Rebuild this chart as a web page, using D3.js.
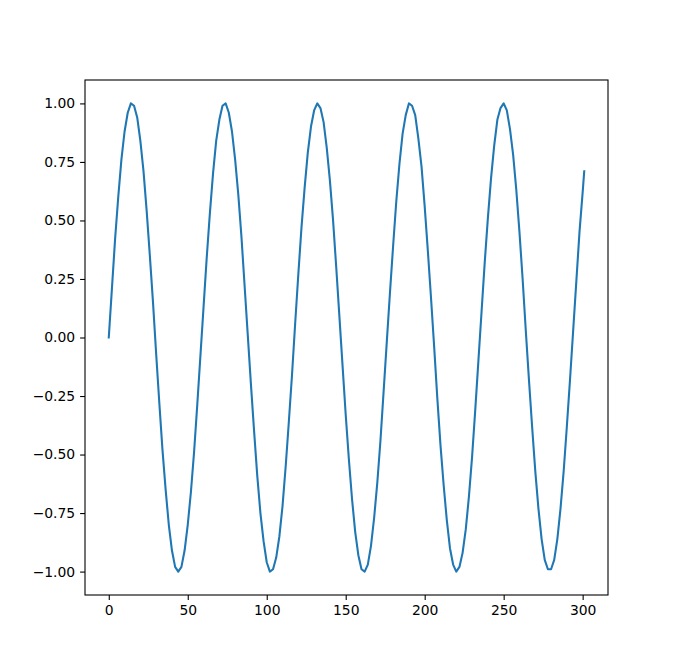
<!DOCTYPE html>
<html><head><meta charset="utf-8">
<script src="https://cdn.jsdelivr.net/npm/d3@7"></script>
<style>body{margin:0;background:#fff}svg{display:block}text{font-family:"DejaVu Sans",sans-serif;font-size:13.9px;fill:#000}</style>
</head><body>
<script>
// x positions (step 2) and the final point at 301
const xValues = [0,2,4,6,8,10,12,14,16,18,20,22,24,26,28,30,32,34,36,38,40,42,44,46,48,50,52,54,56,58,
60,62,64,66,68,70,72,74,76,78,80,82,84,86,88,90,92,94,96,98,100,102,104,106,108,110,112,114,116,118,
120,122,124,126,128,130,132,134,136,138,140,142,144,146,148,150,152,154,156,158,160,162,164,166,168,170,172,174,176,178,
180,182,184,186,188,190,192,194,196,198,200,202,204,206,208,210,212,214,216,218,220,222,224,226,228,230,232,234,236,238,
240,242,244,246,248,250,252,254,256,258,260,262,264,266,268,270,272,274,276,278,280,282,284,286,288,290,292,294,296,298,300,301];
const yValues = [
0.00,0.21,0.42,0.60,0.76,0.88,0.96,1.00,0.99,0.94,0.84,0.71,0.54,0.35,0.15,-0.07,-0.28,-0.48,-0.65,-0.80,
-0.91,-0.98,-1.00,-0.98,-0.91,-0.80,-0.66,-0.49,-0.29,-0.08,0.13,0.34,0.53,0.70,0.84,0.93,0.99,1.00,0.96,0.88,
0.76,0.61,0.43,0.22,0.01,-0.20,-0.40,-0.59,-0.75,-0.87,-0.96,-1.00,-0.99,-0.94,-0.85,-0.72,-0.55,-0.36,-0.16,0.06,
0.27,0.47,0.64,0.79,0.90,0.97,1.00,0.98,0.92,0.81,0.67,0.50,0.30,0.09,-0.12,-0.33,-0.52,-0.69,-0.83,-0.93,
-0.99,-1.00,-0.97,-0.89,-0.77,-0.62,-0.44,-0.23,-0.02,0.19,0.39,0.58,0.74,0.87,0.95,1.00,0.99,0.95,0.85,0.73,
0.56,0.37,0.17,-0.04,-0.26,-0.46,-0.63,-0.78,-0.90,-0.97,-1.00,-0.98,-0.92,-0.82,-0.68,-0.51,-0.31,-0.10,0.11,0.32,
0.51,0.68,0.82,0.93,0.98,1.00,0.97,0.89,0.78,0.63,0.45,0.25,0.03,-0.18,-0.38,-0.57,-0.73,-0.86,-0.95,-0.99,
-0.99,-0.95,-0.86,-0.73,-0.57,-0.38,-0.18,0.03,0.24,0.45,0.62,0.71];
const xTicks = [0,50,100,150,200,250,300];
const yTicks = [-1.00,-0.75,-0.50,-0.25,0.00,0.25,0.50,0.75,1.00];

const W=676,H=669, L=85,R=608,T=80,B=595;
const data = xValues.map((x,i)=>({x, y:yValues[i]}));
const xmax = d3.max(xValues), xpad = xmax*0.05;
const x = d3.scaleLinear().domain([-xpad, xmax+xpad]).range([L,R]);
const y = d3.scaleLinear().domain([-1.1,1.1]).range([B,T]);

const svg = d3.select("body").append("svg").attr("width",W).attr("height",H);
svg.append("rect").attr("width",W).attr("height",H).attr("fill","#fff");

const fmt = v => d3.format(".2f")(v).replace("-","\u2212");
const xa = svg.append("g").attr("transform",`translate(0,${B})`)
  .call(d3.axisBottom(x).tickValues(xTicks).tickSize(4.9).tickPadding(4.9).tickFormat(d3.format("d")));
const ya = svg.append("g").attr("transform",`translate(${L},0)`)
  .call(d3.axisLeft(y).tickValues(yTicks).tickSize(4.9).tickPadding(4.9).tickFormat(fmt));
[xa,ya].forEach(g=>{g.select(".domain").remove();g.selectAll("line").attr("stroke","#000").attr("stroke-width",1.1);
  g.selectAll("text").style("font-family","DejaVu Sans").style("font-size","13.9px").attr("fill","#000");});

svg.append("clipPath").attr("id","c").append("rect").attr("x",L).attr("y",T).attr("width",R-L).attr("height",B-T);
svg.append("path").datum(data).attr("clip-path","url(#c)")
  .attr("fill","none").attr("stroke","#1f77b4").attr("stroke-width",2.08)
  .attr("stroke-linejoin","round").attr("stroke-linecap","square")
  .attr("d", d3.line().x(d=>x(d.x)).y(d=>y(d.y)));

svg.append("rect").attr("x",L).attr("y",T).attr("width",R-L).attr("height",B-T)
  .attr("fill","none").attr("stroke","#000").attr("stroke-width",1.1);
</script>
</body></html>
